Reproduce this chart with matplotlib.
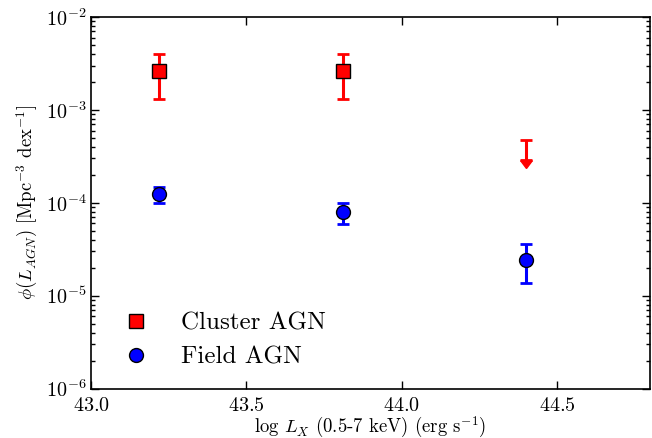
import numpy as np
import matplotlib
matplotlib.use("Agg")
import matplotlib.pyplot as plt
from matplotlib.markers import CARETDOWNBASE

plt.rcParams['font.family'] = 'serif'
plt.rcParams['font.serif'] = ['cmr10', 'DejaVu Serif']
plt.rcParams['mathtext.fontset'] = 'cm'
plt.rcParams['axes.unicode_minus'] = False
plt.rcParams['axes.formatter.use_mathtext'] = True

# cluster AGN
xc = [43.22, 43.81]
yc = [2.64e-3, 2.64e-3]
yc_lo = [1.32e-3, 1.32e-3]
yc_hi = [4.0e-3, 4.0e-3]

# cluster upper limit
xul = [44.40]
yul = [4.75e-4]
yul_low = [2.9e-4]

# field AGN
xf = [43.22, 43.81, 44.40]
yf = [1.23e-4, 7.87e-5, 2.45e-5]
yf_lo = [9.9e-5, 5.87e-5, 1.37e-5]
yf_hi = [1.47e-4, 9.9e-5, 3.56e-5]

fig = plt.figure(figsize=(6.52, 4.38), dpi=100)
ax = fig.add_axes([0.1396, 0.113, 0.8574, 0.848])

yc = np.array(yc); yf = np.array(yf)
errc = [yc - np.array(yc_lo), np.array(yc_hi) - yc]
errf = [yf - np.array(yf_lo), np.array(yf_hi) - yf]

ax.errorbar(xc, yc, yerr=errc, fmt='none', ecolor='red', elinewidth=2.2,
            capsize=4, capthick=2)
ax.plot(xc, yc, 's', color='red', mec='black', ms=10, label='Cluster AGN')

# upper limit: bar with top cap and filled arrow head
ax.errorbar(xul, yul, yerr=[np.array(yul) - np.array(yul_low), [0]],
            fmt='none', ecolor='red', elinewidth=2.2, capsize=4, capthick=2)
ax.plot(xul, yul_low, ls='none', marker=CARETDOWNBASE, ms=8, color='red')

ax.errorbar(xf, yf, yerr=errf, fmt='none', ecolor='blue', elinewidth=2.2,
            capsize=4, capthick=2)
ax.plot(xf, yf, 'o', color='blue', mec='black', ms=10, label='Field AGN')

ax.set_yscale('log')
ax.set_xlim(43.0, 44.8)
ax.set_ylim(1e-6, 1e-2)
ax.set_xticks([43.0, 43.5, 44.0, 44.5])
ax.tick_params(which='both', direction='in', top=True, right=True, labelsize=14.5)
ax.tick_params(which='major', length=6, width=1)
ax.tick_params(which='minor', length=3, width=1)
ax.tick_params(axis='x', pad=6)
for s in ax.spines.values():
    s.set_linewidth(1.2)

ax.set_xlabel(r'log $L_X$ (0.5-7 keV) (erg s$^{-1}$)', fontsize=13.5, labelpad=0)
ax.set_ylabel(r'$\phi(L_{AGN})$ [Mpc$^{-3}$ dex$^{-1}$]', fontsize=13.5, labelpad=4)

ax.legend(loc='lower left', numpoints=1, frameon=False, fontsize=18,
          handletextpad=0.8, borderaxespad=0.4, labelspacing=0.45)

fig.savefig('out.png', dpi=100)
